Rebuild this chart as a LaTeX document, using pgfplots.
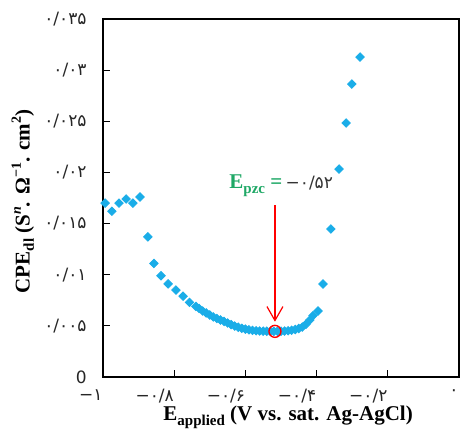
\documentclass[border=0pt]{standalone}
\usepackage{fontspec}
\setmainfont{Liberation Serif}
\newfontfamily\fa{DejaVu Sans}
\usepackage{pgfplots}
\pgfplotsset{compat=1.18}
\usetikzlibrary{arrows.meta}
\definecolor{ptblue}{HTML}{1AADE8}
\definecolor{pzcgreen}{HTML}{1FA866}
\newcommand{\lsub}[1]{\raisebox{-0.45ex}{\fontsize{7.5}{8}\selectfont #1}}
\newcommand{\lsup}[1]{\raisebox{0.9ex}{\fontsize{7}{8}\selectfont #1}}

\begin{document}
\begin{tikzpicture}
\begin{axis}[
  scale only axis,
  width=178pt, height=179pt,
  xmin=-1, xmax=0, ymin=0, ymax=0.035,
  scaled y ticks=false, scaled x ticks=false,
  axis line style={line width=0.75pt},
  xtick={-1,-0.8,-0.6,-0.4,-0.2,0},
  xticklabels={−۱,−۰/۸,−۰/۶,−۰/۴,−۰/۲,۰},
  ytick={0,0.005,0.01,0.015,0.02,0.025,0.03,0.035},
  yticklabels={0,۰/۰۰۵,۰/۰۱,۰/۰۱۵,۰/۰۲,۰/۰۲۵,۰/۰۳,۰/۰۳۵},
  tick align=inside,
  xtick pos=bottom, ytick pos=left,
  major tick length=3.5pt,
  tick style={line width=0.6pt, black},
  xticklabel style={anchor=north east, font=\fa\fontsize{8.5}{9}\selectfont, text=black!85, inner xsep=0pt, inner ysep=0pt, yshift=-6pt},
  yticklabel style={font=\fa\fontsize{8.5}{9}\selectfont, text=black!85, inner xsep=0pt, xshift=-8pt},
  label style={font=\bfseries\fontsize{10.5}{12}\selectfont},
  xlabel={E\lsub{applied} (V vs. sat. Ag-AgCl)},
  xlabel style={at={(axis description cs:0.52,0)}, anchor=base, yshift=-22pt},
  ylabel={CPE\lsub{dl} (S\lsup{\textit{n}}. Ω\lsup{−1}. cm\lsup{2})},
  ylabel style={at={(axis description cs:-0.225,0.49)}, anchor=center},
  clip=false,
]
\addplot[only marks, mark=square*, mark size=1.5pt, color=ptblue,
  mark options={rotate=45, fill=ptblue, draw=ptblue}] coordinates {
  (-0.994,0.0170) (-0.975,0.0162) (-0.955,0.0170) (-0.935,0.0174)
  (-0.916,0.0170) (-0.896,0.0176) (-0.874,0.0137) (-0.857,0.0111)
  (-0.837,0.0099) (-0.817,0.0091) (-0.795,0.0085) (-0.775,0.0079)
  (-0.757,0.0073) (-0.739,0.0069)
  (-0.73,0.00670) (-0.72,0.00645) (-0.71,0.00626) (-0.70,0.00606)
  (-0.69,0.00587) (-0.68,0.00572) (-0.67,0.00557) (-0.66,0.00543)
  (-0.65,0.00528) (-0.64,0.00512) (-0.63,0.00498) (-0.62,0.00486)
  (-0.61,0.00476) (-0.60,0.00468) (-0.59,0.00461) (-0.58,0.00456)
  (-0.57,0.00452) (-0.56,0.00450) (-0.55,0.00448) (-0.54,0.00447)
  (-0.53,0.00446) (-0.52,0.00446) (-0.51,0.00446) (-0.50,0.00447)
  (-0.49,0.00449) (-0.48,0.00452) (-0.47,0.00457) (-0.46,0.00464)
  (-0.45,0.00474) (-0.44,0.00488) (-0.43,0.00515) (-0.419,0.00557)
  (-0.41,0.00600) (-0.396,0.00645) (-0.382,0.00909) (-0.360,0.01447)
  (-0.337,0.02033) (-0.317,0.02483) (-0.301,0.02864) (-0.278,0.03128)
};
\addplot[only marks, mark=o, mark size=3pt, red, mark options={line width=0.7pt}]
  coordinates {(-0.517,0.00446)};
\draw[red, line width=0.6pt, -{Straight Barb[length=7pt,width=8pt]}]
  (axis cs:-0.517,0.0168) -- (axis cs:-0.517,0.0054);
\node[anchor=base west, inner sep=0pt] at (axis cs:-0.646,0.01838)
  {{\color{pzcgreen}\bfseries\fontsize{10.5}{12}\selectfont E\lsub{pzc} =}\,{\fa\fontsize{8.5}{10}\selectfont\color{black!80}−۰/۵۲}};
\coordinate (bl) at (rel axis cs:0,0);
\coordinate (tr) at (rel axis cs:1,1);
\end{axis}
\pgfresetboundingbox
\useasboundingbox ([shift={(-51.5pt,-26.5pt)}]bl) rectangle ([shift={(1.5pt,9.5pt)}]tr);
\end{tikzpicture}
\end{document}
